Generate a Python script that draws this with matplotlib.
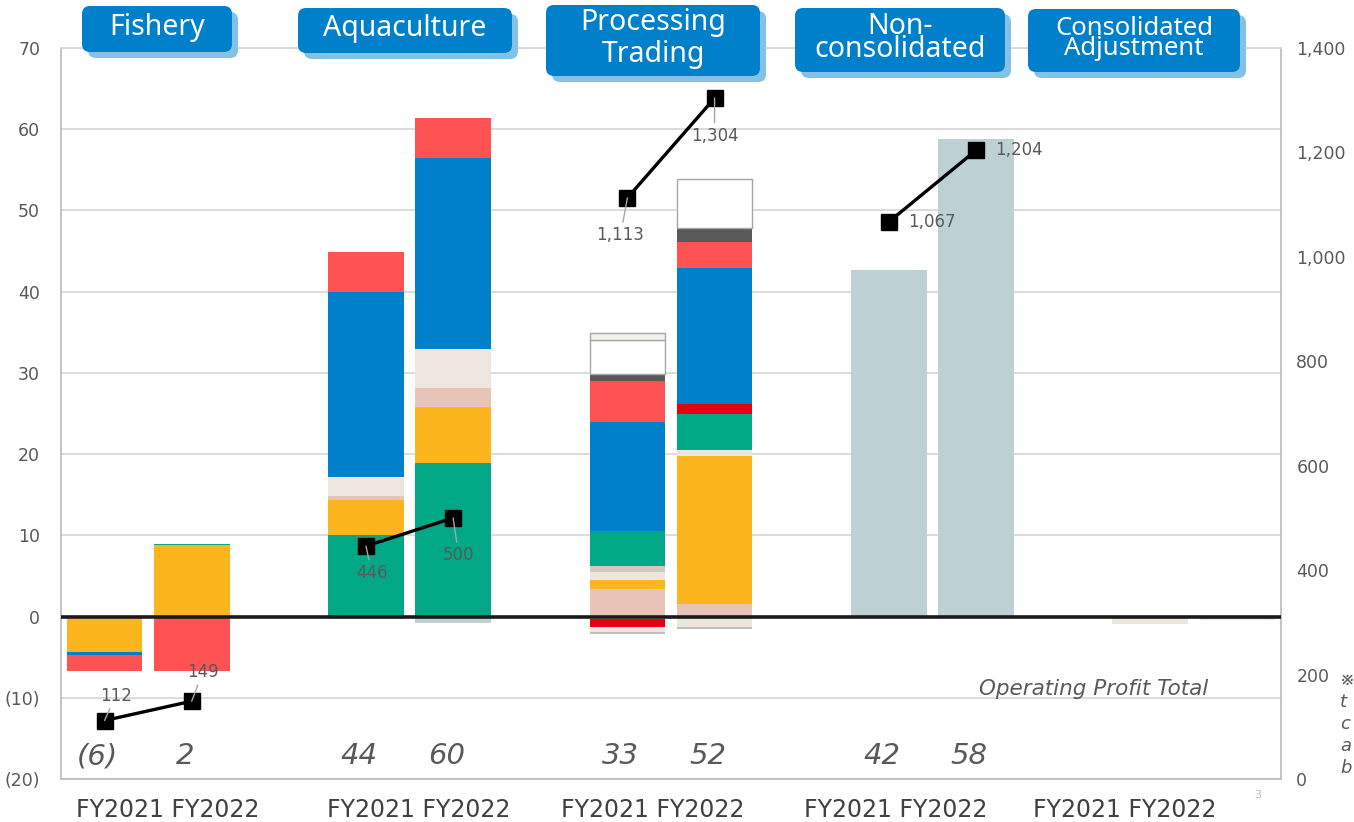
import matplotlib
matplotlib.use('Agg')
import matplotlib.pyplot as plt
from matplotlib.patches import FancyBboxPatch
from matplotlib.ticker import FuncFormatter

W, H = 1354, 822

segments = ['Fishery', 'Aquaculture', 'Processing\nTrading', 'Non-\nconsolidated',
            'Consolidated\nAdjustment']
year_labels = 'FY2021 FY2022'

# pieces of each stacked bar: positives stack up from 0, negatives stack down from 0
fishery_21 = [('yellow', -4.4), ('blue', -0.35), ('coral', -2.0)]
fishery_22 = [('yellow', 8.75), ('teal', 0.2), ('coral', -6.7)]
aqua_21 = [('teal', 10.1), ('yellow', 4.3), ('pink', 0.4), ('beige', 2.4),
           ('blue', 22.7), ('coral', 5.0), ('slate', -0.3)]
aqua_22 = [('teal', 18.9), ('yellow', 6.9), ('pink', 2.4), ('beige', 4.7),
           ('blue', 23.5), ('coral', 5.0), ('slate', -0.75)]
proc_21 = [('pink', 3.35), ('yellow', 1.1), ('beige', 1.05), ('taupe', 0.75),
           ('teal', 4.3), ('blue', 13.45), ('coral', 5.0), ('dark', 0.9),
           ('white', 4.2), ('offwhite', 0.8),
           ('beige', -0.3), ('red', -1.0), ('beige', -0.55), ('gray', -0.3)]
proc_22 = [('pink', 1.55), ('yellow', 18.2), ('beige', 0.8), ('teal', 4.35),
           ('red', 1.3), ('blue', 16.75), ('coral', 3.15), ('dark', 1.7),
           ('white', 6.1), ('beige', -1.25), ('gray', -0.3)]
noncons_21 = [('slate', 42.7)]
noncons_22 = [('slate', 58.8)]
adj_21 = [('beige', -0.95)]
adj_22 = [('beige', -0.45)]

profit_labels = ['(6)', '2', '44', '60', '33', '52', '42', '58', '', '']
op_total = [112, 149, 446, 500, 1113, 1304, 1067, 1204]
op_total_text = ['112', '149', '446', '500', '1,113', '1,304', '1,067', '1,204']

COLORS = {
    'teal': '#00a886', 'yellow': '#fdb51e', 'pink': '#e8c3b7', 'beige': '#ece6df',
    'taupe': '#d6c6bd', 'blue': '#0080cb', 'coral': '#ff5252', 'red': '#e60012',
    'dark': '#595959', 'white': '#ffffff', 'offwhite': '#f6f3ee', 'slate': '#bdd1d4',
    'gray': '#bfbfbf',
}
TXT = '#595959'

fig = plt.figure(figsize=(W / 100, H / 100), dpi=100)
ax = fig.add_axes([61 / W, 1 - 779 / H, 1220 / W, 731 / H])
ax2 = ax.twinx()

bars = [fishery_21, fishery_22, aqua_21, aqua_22, proc_21, proc_22,
        noncons_21, noncons_22, adj_21, adj_22]
xpos = [3 * g + j for g in range(5) for j in range(2)]

for x, pieces in zip(xpos, bars):
    up, down = 0.0, 0.0
    for key, h in pieces:
        boxed = key in ('white', 'offwhite')
        kw = dict(width=0.87, color=COLORS[key], zorder=2,
                  edgecolor='#a6a6a6' if boxed else 'none',
                  linewidth=1.0 if boxed else 0)
        if h >= 0:
            ax.bar(x, h, bottom=up, **kw)
            up += h
        else:
            ax.bar(x, h, bottom=down, **kw)
            down += h

ax.axhline(0, color='#1a1a1a', lw=2.6, zorder=4)

# operating profit totals per segment (value labels along the bottom)
for x, lab in zip(xpos, profit_labels):
    ax.annotate(lab, (x, -17.2), xytext=(-5, 0), textcoords='offset points',
                ha='center', va='center', fontsize=21, style='italic', color=TXT)

ax.text(12.66, -8.9, 'Operating Profit Total', ha='right', va='center',
        fontsize=15.5, style='italic', color=TXT)

ax.set_xlim(-0.5, 13.5)
ax.set_ylim(-20, 70)
ax.set_yticks(range(-20, 71, 10))
ax.yaxis.set_major_formatter(FuncFormatter(
    lambda v, p: f'({abs(int(v))})' if v < 0 else f'{int(v)}'))
ax.yaxis.grid(True, color='#d9d9d9', lw=1.3)
ax.set_axisbelow(True)

year_label_x = [0.73, 3.6, 6.29, 9.08, 11.71]
ax.set_xticks(year_label_x)
ax.set_xticklabels([year_labels] * 5, fontsize=17, color='#404040')
ax.tick_params(axis='x', length=0, pad=14)
ax.tick_params(axis='y', length=0, pad=15, labelsize=12.5, labelcolor=TXT)

for side in ('left', 'right', 'bottom'):
    ax.spines[side].set_color('#bfbfbf')
    ax.spines[side].set_linewidth(1.3)
ax.spines['top'].set_color('#d9d9d9')
ax.spines['top'].set_linewidth(1.3)
for s in ax2.spines.values():
    s.set_visible(False)

# right axis: totals as connected squares within each segment
ax2.set_ylim(0, 1400)
ax2.set_yticks(range(0, 1401, 200))
ax2.yaxis.set_major_formatter(FuncFormatter(lambda v, p: f'{int(v):,}'))
ax2.tick_params(axis='y', length=0, pad=11, labelsize=12.5, labelcolor=TXT)

for g in range(4):
    ax2.plot(xpos[2 * g:2 * g + 2], op_total[2 * g:2 * g + 2], color='black',
             lw=2.4, marker='s', ms=12, mfc='black', mec='black', zorder=5)

offsets = [(8, 18), (8, 21), (4, -19), (4, -27), (-5, -27), (0, -27), (14, 0), (14, 0)]
for i, (v, s, off) in enumerate(zip(op_total, op_total_text, offsets)):
    leader = i < 6
    ax2.annotate(s, (xpos[i], v), xytext=off, textcoords='offset points',
                 ha='center' if leader else 'left', va='center',
                 fontsize=12, color=TXT, zorder=6,
                 arrowprops=dict(arrowstyle='-', color='#a6a6a6', lw=1.0,
                                 shrinkA=1, shrinkB=0) if leader else None)

# header tabs, drawn in pixel units over the whole figure
over = fig.add_axes([0, 0, 1, 1], zorder=5)
over.set_xlim(0, W)
over.set_ylim(H, 0)
over.axis('off')

header_boxes = [(82, 6, 232, 52), (298, 8, 512, 53), (546, 5, 760, 76),
                (795, 8, 1005, 72), (1028, 9, 1240, 72)]
header_spacing = [1.2, 1.2, 1.15, 0.7, 0.72]
header_size = [20.5, 20.5, 20.5, 20.5, 18.5]

for name, (x0, y0, x1, y1), ls, fs in zip(segments, header_boxes,
                                          header_spacing, header_size):
    over.add_patch(FancyBboxPatch((x0 + 6, y0 + 6), x1 - x0, y1 - y0,
                                  boxstyle='round,pad=0,rounding_size=8',
                                  fc='#84c1e8', ec='none'))
    over.add_patch(FancyBboxPatch((x0, y0), x1 - x0, y1 - y0,
                                  boxstyle='round,pad=0,rounding_size=8',
                                  fc='#0080cb', ec='none'))
    over.text((x0 + x1) / 2, (y0 + y1) / 2 - 2, name, ha='center', va='center',
              color='white', fontsize=fs, linespacing=ls, family='Noto Sans')

over.text(1340, 724, '※\nt\nc\na\nb', ha='left', va='center',
          fontsize=13, style='italic', color=TXT, linespacing=1.3,
          family=['DejaVu Sans', 'Noto Sans CJK JP'])
over.text(1258, 795, '3', ha='center', va='center', fontsize=8, color='#bbbbbb')

fig.savefig('out.png', dpi=100)
